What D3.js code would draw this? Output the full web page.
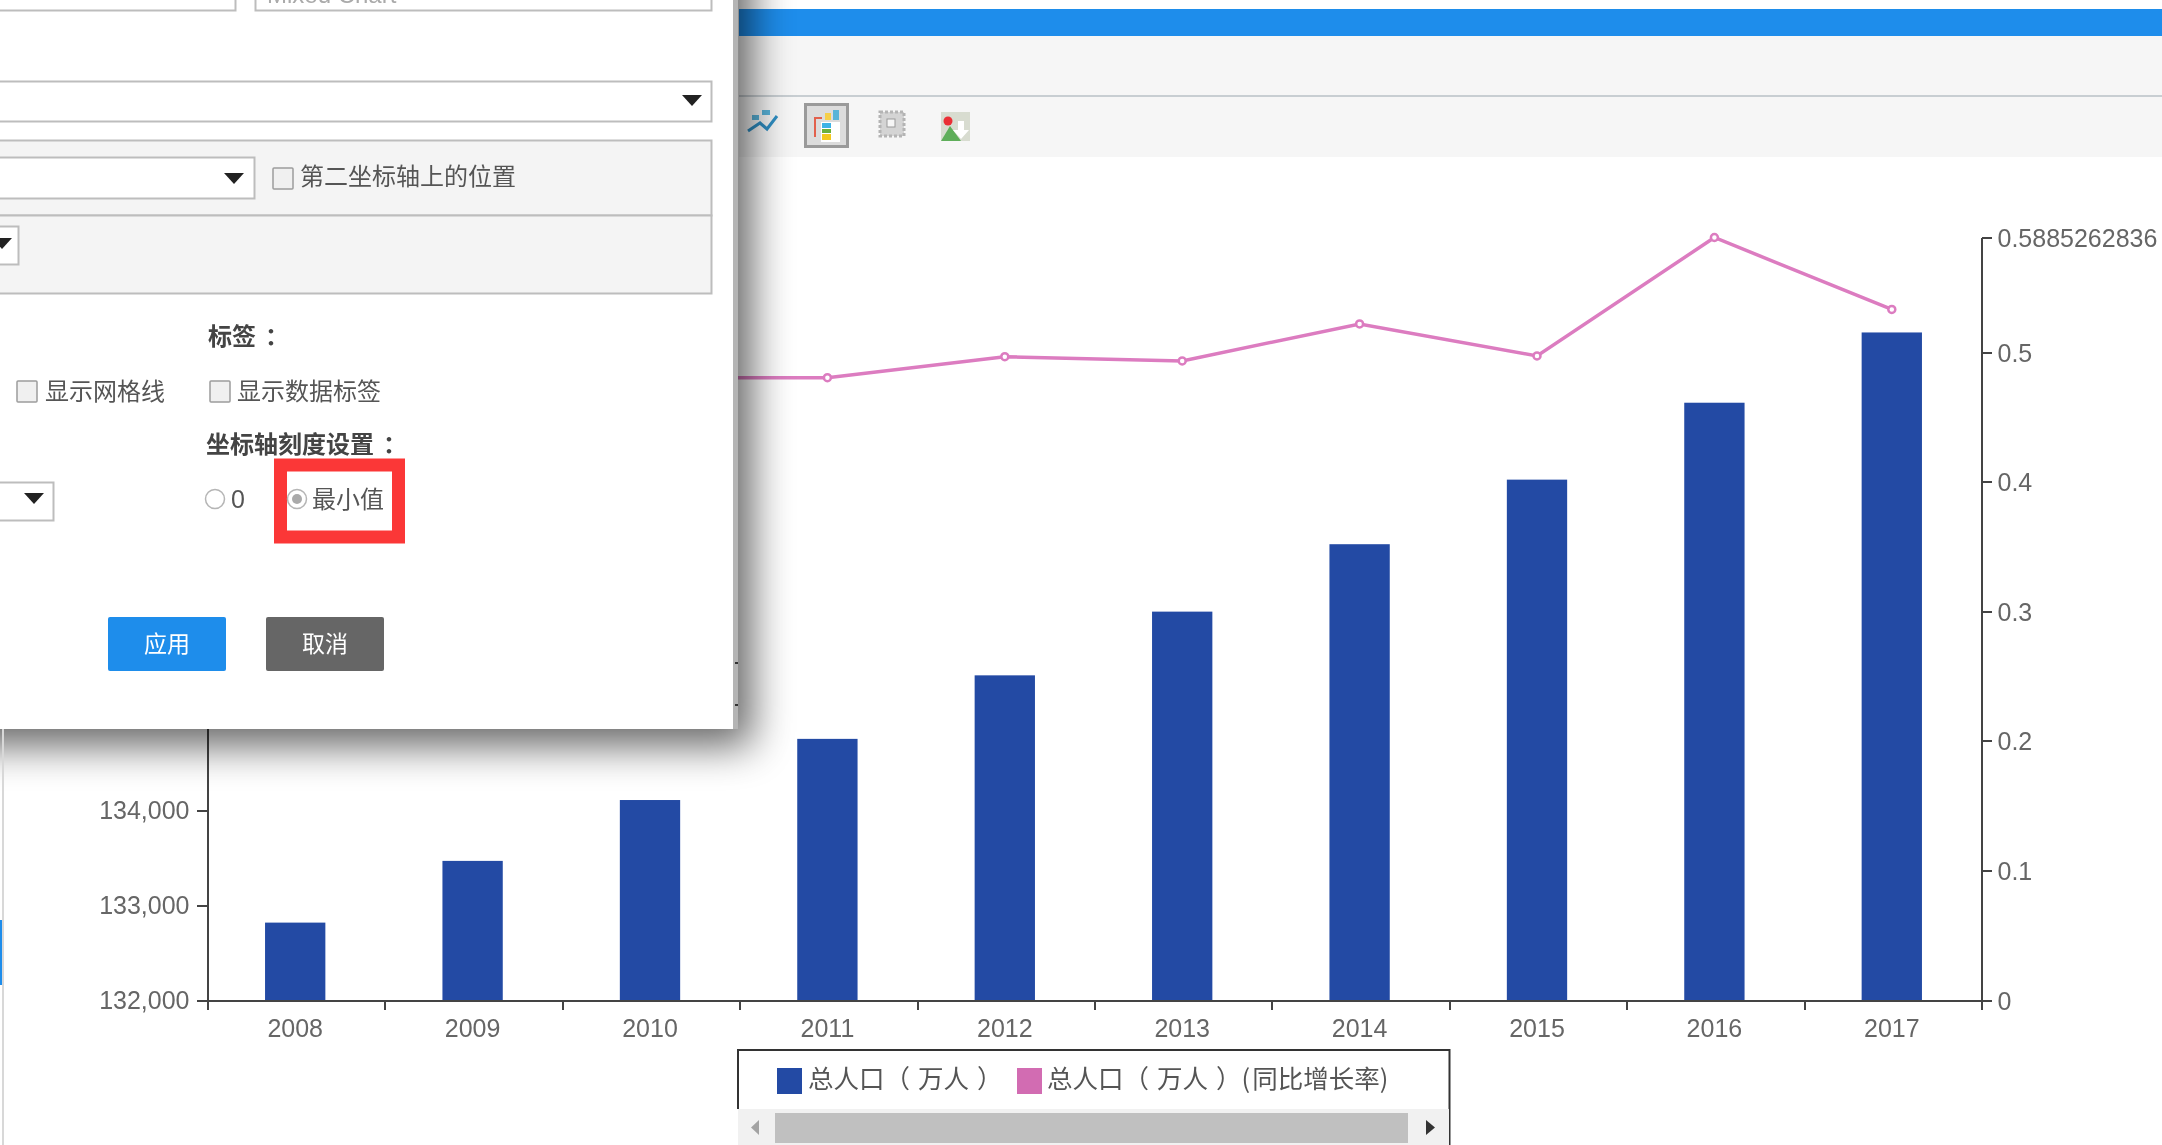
<!DOCTYPE html>
<html>
<head>
<meta charset="utf-8">
<script src="https://cdnjs.cloudflare.com/ajax/libs/d3/7.8.5/d3.min.js"></script>
<style>
  html, body { margin: 0; padding: 0; background: #fff; overflow: hidden; }
  svg { display: block; filter: blur(0.7px); }
  text { font-family: "Liberation Sans", "Noto Sans CJK SC", sans-serif; }
  .axis text { font-size: 25px; fill: #666; }
  .axis line, .axis path { stroke: #444; stroke-width: 2; shape-rendering: crispEdges; }
  .ui { font-size: 24px; fill: #555; font-family: "Noto Sans CJK SC", sans-serif; }
  .ui.bold { font-weight: 700; fill: #444; }
</style>
</head>
<body>
<svg width="2162" height="1145"></svg>
<script>
var years = ['2008', '2009', '2010', '2011', '2012', '2013', '2014', '2015', '2016', '2017'];
var population = [132815, 133465, 134106, 134750, 135419, 136090, 136800, 137480, 138290, 139030];
var growthRate = [0.5093, 0.4879, 0.4803, 0.4803, 0.4965, 0.4933, 0.5218, 0.4971, 0.5885262836, 0.533];
var growthTicks = [0, 0.1, 0.2, 0.3, 0.4, 0.5, 0.5885262836];
var populationTicks = [132000, 133000, 134000];
var legendNames = ['总人口（万人）', '总人口（万人）(同比增长率)'];

var barColor = '#234aa4';
var lineColor = '#dc7cc0';

var svg = d3.select('svg');
var plotLeft = 207.5;
var plotRight = 1981.5;
var plotTop = 237.5;
var plotBottom = 1000;

var x = d3.scaleBand().domain(years).range([plotLeft, plotRight]).paddingInner(0.66).paddingOuter(0.33);
var edges = d3.scaleLinear().domain([0, years.length]).range([plotLeft, plotRight]);
var yLeft = d3.scaleLinear().domain([132000, 140030]).range([plotBottom, plotTop]);
var yRight = d3.scaleLinear().domain([0, 0.5885262836]).range([plotBottom, plotTop]);
var shift = -1; // the bars sit a hair left of the band centre

drawToolbar();
drawChart();
drawLegend();
drawDialog();

function drawToolbar() {
  svg.append('rect').attr('x', 739).attr('y', 9).attr('width', 1423).attr('height', 27).attr('fill', '#1e8deb');
  svg.append('rect').attr('x', 739).attr('y', 36).attr('width', 1423).attr('height', 121).attr('fill', '#f6f6f6');
  svg.append('rect').attr('x', 739).attr('y', 95).attr('width', 1423).attr('height', 2).attr('fill', '#c8ced2');

  // line chart icon
  svg.append('path')
    .attr('d', 'M748 131 L760 123 L767 129 L777 116')
    .attr('fill', 'none').attr('stroke', '#2f8fc4').attr('stroke-width', 3);
  svg.append('rect').attr('x', 752).attr('y', 115).attr('width', 7).attr('height', 5).attr('fill', '#5ab4da');
  svg.append('rect').attr('x', 762).attr('y', 110).attr('width', 8).attr('height', 5).attr('fill', '#5ab4da');

  // selected button
  svg.append('rect').attr('x', 805.5).attr('y', 104.5).attr('width', 42).attr('height', 42)
    .attr('fill', '#dcdcdc').attr('stroke', '#9a9a9a').attr('stroke-width', 3);
  svg.append('rect').attr('x', 821).attr('y', 122).attr('width', 19).attr('height', 20).attr('fill', '#fff');
  svg.append('rect').attr('x', 822).attr('y', 123).attr('width', 9).attr('height', 5).attr('fill', '#3cb2e6');
  svg.append('rect').attr('x', 822).attr('y', 129).attr('width', 9).attr('height', 4).attr('fill', '#6bb03c');
  svg.append('rect').attr('x', 822).attr('y', 134).attr('width', 9).attr('height', 6).attr('fill', '#f2c81e');
  svg.append('rect').attr('x', 825).attr('y', 113).attr('width', 6).attr('height', 7).attr('fill', '#f5cf4a');
  svg.append('rect').attr('x', 833).attr('y', 110).attr('width', 6).attr('height', 10).attr('fill', '#58b4d8');
  svg.append('path').attr('d', 'M815 137 V118 H822').attr('fill', 'none').attr('stroke', '#e2604c').attr('stroke-width', 2);

  // greyed table icon
  svg.append('rect').attr('x', 880).attr('y', 112).attr('width', 24).attr('height', 24)
    .attr('fill', '#d4d4d4').attr('stroke', '#b4b4b4').attr('stroke-width', 3).attr('stroke-dasharray', '3 2');
  svg.append('rect').attr('x', 887).attr('y', 119).attr('width', 8).attr('height', 8).attr('fill', '#f6f6f6').attr('stroke', '#999');

  // image download icon
  svg.append('rect').attr('x', 941).attr('y', 112).attr('width', 29).attr('height', 29).attr('fill', '#d8dcd0');
  svg.append('path').attr('d', 'M941 141 L950 126 L961 141 Z').attr('fill', '#5fae5a');
  svg.append('circle').attr('cx', 948).attr('cy', 121).attr('r', 4.5).attr('fill', '#ea2f35');
  svg.append('path').attr('d', 'M958 121 H964 V130 H969 L961 139 L953 130 H958 Z').attr('fill', '#fff');
}

function drawChart() {
  svg.append('g').selectAll('rect')
    .data(years)
    .enter()
    .append('rect')
    .attr('x', function(d) { return x(d) + shift; })
    .attr('y', function(d, i) { return yLeft(population[i]); })
    .attr('width', x.bandwidth())
    .attr('height', function(d, i) { return plotBottom - yLeft(population[i]); })
    .attr('fill', barColor);

  var line = d3.line()
    .x(function(d, i) { return x(years[i]) + x.bandwidth() / 2 + shift; })
    .y(function(d) { return yRight(d); });

  svg.append('path')
    .attr('d', line(growthRate))
    .attr('fill', 'none')
    .attr('stroke', lineColor)
    .attr('stroke-width', 3.5);

  svg.append('g').selectAll('circle')
    .data(growthRate)
    .enter()
    .append('circle')
    .attr('cx', function(d, i) { return x(years[i]) + x.bandwidth() / 2 + shift; })
    .attr('cy', function(d) { return yRight(d); })
    .attr('r', 3.5)
    .attr('fill', '#fff')
    .attr('stroke', lineColor)
    .attr('stroke-width', 2.5);

  // year labels sit between the ticks, the ticks themselves on the band edges
  svg.append('g').attr('class', 'axis').attr('transform', 'translate(' + shift + ',' + plotBottom + ')')
    .call(d3.axisBottom(x).tickSize(0).tickPadding(19))
    .call(function(g) { g.select('.domain').remove(); });
  svg.append('g').attr('class', 'axis').attr('transform', 'translate(0,' + plotBottom + ')')
    .call(d3.axisBottom(edges).ticks(years.length).tickSize(10).tickSizeOuter(10).tickFormat(''));

  svg.append('g').attr('class', 'axis').attr('transform', 'translate(' + plotLeft + ',0)')
    .call(d3.axisLeft(yLeft).tickValues(populationTicks).tickFormat(d3.format(',')).tickSize(11).tickSizeOuter(0).tickPadding(7));
  svg.append('g').attr('class', 'axis').attr('transform', 'translate(' + plotRight + ',0)')
    .call(d3.axisRight(yRight).tickValues(growthTicks).tickFormat(String).tickSize(10).tickSizeOuter(0).tickPadding(6))
    .call(function(g) { g.selectAll('text').attr('y', 1); });
}

function drawLegend() {
  svg.append('path')
    .attr('d', 'M738 1109 V1050 H1449.5 V1145')
    .attr('fill', 'none').attr('stroke', '#333').attr('stroke-width', 2);
  svg.append('rect').attr('x', 738).attr('y', 1109).attr('width', 711).attr('height', 36).attr('fill', '#f1f1f1');
  svg.append('rect').attr('x', 775).attr('y', 1113).attr('width', 633).attr('height', 30).attr('fill', '#c0c0c0');
  svg.append('path').attr('d', 'M759 1120 V1135 L751 1127.5 Z').attr('fill', '#a3a3a3');
  svg.append('path').attr('d', 'M1426 1120 V1135 L1435 1127.5 Z').attr('fill', '#333');

  svg.append('rect').attr('x', 777).attr('y', 1068).attr('width', 25).attr('height', 26).attr('fill', barColor);
  svg.append('rect').attr('x', 1017).attr('y', 1068).attr('width', 25).attr('height', 26).attr('fill', '#d26cb2');
  // dx opens up the full-width brackets the way the original font sets them
  svg.append('text').attr('class', 'ui').attr('x', 808).attr('y', 1088).attr('dx', '0 0 0 0 8 0 8')
    .style('font-size', '25.5px').text(legendNames[0]);
  svg.append('text').attr('class', 'ui').attr('x', 1047).attr('y', 1088).attr('dx', '0 0 0 0 8 0 8 0 2')
    .style('font-size', '25.5px').text(legendNames[1]);
}

function box(x0, y0, w, h, fill) {
  return svg.append('rect').attr('x', x0 + 0.5).attr('y', y0 + 0.5).attr('width', w).attr('height', h)
    .attr('fill', fill || '#fff').attr('stroke', '#bdbdbd').attr('stroke-width', 2);
}

function arrow(cx, cy) {
  svg.append('path')
    .attr('d', 'M' + (cx - 10) + ' ' + (cy - 5) + ' H' + (cx + 10) + ' L' + cx + ' ' + (cy + 6) + ' Z')
    .attr('fill', '#222');
}

function check(x0, y0) {
  svg.append('rect').attr('x', x0).attr('y', y0).attr('width', 20).attr('height', 21).attr('rx', 1)
    .attr('fill', '#f0f0f0').attr('stroke', '#9c9c9c').attr('stroke-width', 1.5);
}

function label(tx, ty, s, cls) {
  return svg.append('text').attr('class', 'ui' + (cls ? ' ' + cls : '')).attr('x', tx).attr('y', ty).text(s);
}

function drawDialog() {
  var defs = svg.append('defs');
  defs.append('filter').attr('id', 'shadow')
    .attr('x', '-15%').attr('y', '-15%').attr('width', '130%').attr('height', '130%')
    .append('feGaussianBlur').attr('stdDeviation', 20);

  svg.append('rect').attr('x', -60).attr('y', -60).attr('width', 812).attr('height', 806)
    .attr('fill', '#000').attr('opacity', 0.6).attr('filter', 'url(#shadow)');

  svg.append('rect').attr('x', -5).attr('y', -5).attr('width', 738).attr('height', 734).attr('fill', '#fff');
  svg.append('rect').attr('x', 733).attr('y', -5).attr('width', 5).attr('height', 734).attr('fill', '#b4b4b4');
  svg.append('rect').attr('x', 735).attr('y', 662).attr('width', 3).attr('height', 2).attr('fill', '#333');
  svg.append('rect').attr('x', 735).attr('y', 704).attr('width', 3).attr('height', 2).attr('fill', '#333');

  // inputs cut off by the top of the screenshot
  box(-10, -20, 245, 30);
  box(255, -20, 456, 30);
  svg.append('text').attr('x', 267).attr('y', 3).attr('fill', '#aaa').style('font-size', '24px').text('Mixed Chart');

  box(-10, 81, 721, 40);
  arrow(692, 100);

  box(-10, 140, 721, 75, '#f4f4f4');
  box(-10, 215, 721, 78, '#f4f4f4');
  box(-10, 157, 264, 41);
  arrow(234, 178);
  check(273, 168);
  label(300, 185, '第二坐标轴上的位置');
  box(-10, 226, 28, 38);
  arrow(2, 243);

  label(208, 345, '标签：', 'bold').attr('dx', '0 0 9');
  check(17, 381);
  label(45, 400, '显示网格线');
  check(210, 381);
  label(237, 400, '显示数据标签');
  label(206, 453, '坐标轴刻度设置：', 'bold').attr('dx', '0 0 0 0 0 0 0 9');

  box(-10, 482, 63, 38);
  arrow(34, 498);

  svg.append('rect').attr('x', 280.5).attr('y', 465).attr('width', 118).attr('height', 72)
    .attr('fill', 'none').attr('stroke', '#fb3737').attr('stroke-width', 13);

  svg.append('circle').attr('cx', 215).attr('cy', 499).attr('r', 9.5)
    .attr('fill', '#fff').attr('stroke', '#b5b5b5').attr('stroke-width', 1.5);
  label(231, 508, '0').style('font-size', '25px').style('font-family', '"Liberation Sans"');
  svg.append('circle').attr('cx', 297).attr('cy', 499).attr('r', 9.5)
    .attr('fill', '#fff').attr('stroke', '#b5b5b5').attr('stroke-width', 1.5);
  svg.append('circle').attr('cx', 297).attr('cy', 499).attr('r', 5).attr('fill', '#aaa');
  label(312, 508, '最小值');

  svg.append('rect').attr('x', 108).attr('y', 617).attr('width', 118).attr('height', 54).attr('rx', 2).attr('fill', '#1e8deb');
  svg.append('rect').attr('x', 266).attr('y', 617).attr('width', 118).attr('height', 54).attr('rx', 2).attr('fill', '#666');
  label(167, 652, '应用').attr('text-anchor', 'middle').style('fill', '#fff').style('font-size', '23px');
  label(325, 652, '取消').attr('text-anchor', 'middle').style('fill', '#fff').style('font-size', '23px');

  // sidebar edge under the dialog
  svg.append('rect').attr('x', 2).attr('y', 729).attr('width', 2).attr('height', 416).attr('fill', '#d8d8d8');
  svg.append('rect').attr('x', 0).attr('y', 920).attr('width', 2).attr('height', 65).attr('fill', '#1e8deb');
}
</script>
</body>
</html>
